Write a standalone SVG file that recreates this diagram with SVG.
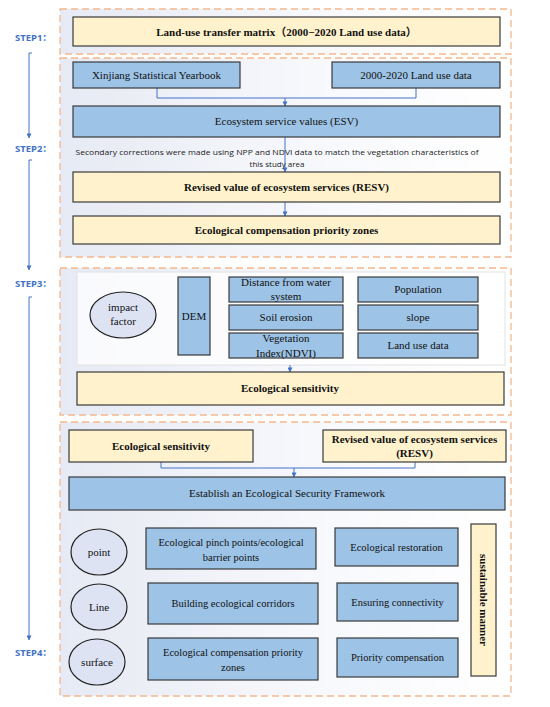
<svg xmlns="http://www.w3.org/2000/svg" width="550" height="707" viewBox="0 0 550 707">
<defs>
<linearGradient id="bg" x1="0" y1="0" x2="1" y2="0">
<stop offset="0" stop-color="#e4e8f3"/>
<stop offset="0.55" stop-color="#f7f8fc"/>
<stop offset="1" stop-color="#ffffff"/>
</linearGradient>
<marker id="ah" viewBox="0 0 6 6" refX="5.5" refY="3" markerWidth="5" markerHeight="5" orient="auto" markerUnits="userSpaceOnUse">
<path d="M0,0 L6,3 L0,6 Z" fill="#4472c4"/>
</marker>
<style>
.cont{fill:url(#bg);stroke:#f4b183;stroke-width:1.3;stroke-dasharray:7 4;opacity:0.9}
.yel{fill:#fff2cc;stroke:#3a3a3a;stroke-width:1.2}
.blu{fill:#9dc3e6;stroke:#3a3a3a;stroke-width:1.2}
.ell{fill:#dde3f3;stroke:#222;stroke-width:1.2}
.t{font-family:"Liberation Serif","Times New Roman",serif;font-size:11px;fill:#111;text-anchor:middle}
.tb{font-family:"Liberation Serif","Times New Roman",serif;font-size:11px;font-weight:bold;fill:#111;text-anchor:middle}
.s{font-family:"Liberation Serif","Times New Roman",serif;font-size:10.5px;fill:#111;text-anchor:middle}
.step{font-family:"Noto Sans","Noto Sans CJK SC",sans-serif;font-size:9.5px;font-weight:bold;fill:#4472c4}
.note{font-family:"Open Sans","Noto Sans",sans-serif;font-size:8px;fill:#222;text-anchor:middle}
.ln{fill:none;stroke:#4472c4;stroke-width:1}
</style>
</defs>

<g id="containers">
<rect class="cont" x="60" y="9" width="451" height="45"/>
<rect class="cont" x="60" y="58" width="451" height="199"/>
<rect class="cont" x="60" y="268" width="451" height="147"/>
<rect class="cont" x="60" y="422" width="451" height="274"/>
<rect x="77" y="272" width="428" height="93" fill="#ffffff" fill-opacity="0.75" stroke="#e2e2e2" stroke-width="1"/>
</g>

<g id="steps">
<text class="step" x="15" y="41">STEP1：</text>
<text class="step" x="15" y="152">STEP2：</text>
<text class="step" x="15" y="287">STEP3：</text>
<text class="step" x="15" y="656">STEP4：</text>
</g>

<g id="connectors">
<path class="ln" d="M32,53 H29 V138" marker-end="url(#ah)"/>
<path class="ln" d="M32,160 H29 V270" marker-end="url(#ah)"/>
<path class="ln" d="M32,297 H29 V640" marker-end="url(#ah)"/>
<path class="ln" d="M157,88 V98 H416 V88"/>
<path class="ln" d="M285,98 V106" marker-end="url(#ah)"/>
<path class="ln" d="M285,137 V172" marker-end="url(#ah)"/>
<path class="ln" d="M285,202 V216" marker-end="url(#ah)"/>
<path class="ln" d="M290,365 V372" marker-end="url(#ah)"/>
<path class="ln" d="M161,462 V468 H415 V462"/>
<path class="ln" d="M294,468 V477" marker-end="url(#ah)"/>
</g>

<g id="n-landuse-matrix">
<rect class="yel" x="73" y="17" width="427" height="29"/>
<text class="tb" x="286.5" y="35.5" style="font-family:'Liberation Serif','Noto Sans CJK SC',serif">Land-use transfer matrix（2000−2020 Land use data）</text>
</g>

<g id="n-yearbook">
<rect class="blu" x="73" y="62" width="167" height="26"/>
<text class="t" x="156.5" y="79">Xinjiang Statistical Yearbook</text>
</g>

<g id="n-landuse-data">
<rect class="blu" x="332" y="62" width="168" height="26"/>
<text class="t" x="416" y="79">2000-2020 Land use data</text>
</g>

<g id="n-esv">
<rect class="blu" x="73" y="106" width="427" height="31"/>
<text class="t" x="286.5" y="125">Ecosystem service values (ESV)</text>
</g>

<g id="n-note">
<text class="note" x="277" y="155" textLength="403" lengthAdjust="spacingAndGlyphs">Secondary corrections were made using NPP and NDVI data to match the vegetation characteristics of</text>
<text class="note" x="277" y="167">this study area</text>
</g>

<g id="n-resv">
<rect class="yel" x="73" y="172" width="427" height="30"/>
<text class="tb" x="286.5" y="191">Revised value of ecosystem services  (RESV)</text>
</g>

<g id="n-priority-zones">
<rect class="yel" x="73" y="216" width="427" height="28"/>
<text class="tb" x="286.5" y="234">Ecological compensation priority zones</text>
</g>

<g id="n-impact">
<ellipse class="ell" cx="123" cy="315" rx="33" ry="23"/>
<text class="t" x="123" y="311">impact</text>
<text class="t" x="123" y="325">factor</text>
</g>

<g id="n-dem">
<rect class="blu" x="178" y="277" width="32" height="78"/>
<text class="t" x="194" y="320">DEM</text>
</g>

<g id="n-water">
<rect class="blu" x="229" y="277" width="114" height="25"/>
<text class="t" x="286" y="286">Distance from water</text>
<text class="t" x="286" y="300">system</text>
</g>

<g id="n-soil">
<rect class="blu" x="229" y="305" width="114" height="25"/>
<text class="t" x="286" y="321">Soil erosion</text>
</g>

<g id="n-ndvi">
<rect class="blu" x="229" y="333" width="114" height="25"/>
<text class="t" x="286" y="342">Vegetation</text>
<text class="t" x="286" y="357">Index(NDVI)</text>
</g>

<g id="n-population">
<rect class="blu" x="358" y="277" width="120" height="25"/>
<text class="t" x="418" y="293">Population</text>
</g>

<g id="n-slope">
<rect class="blu" x="358" y="305" width="120" height="25"/>
<text class="t" x="418" y="321">slope</text>
</g>

<g id="n-landuse">
<rect class="blu" x="358" y="333" width="120" height="25"/>
<text class="t" x="418" y="349">Land use data</text>
</g>

<g id="n-sensitivity">
<rect class="yel" x="77" y="372" width="427" height="33"/>
<text class="tb" x="290" y="392">Ecological sensitivity</text>
</g>

<g id="n-sensitivity2">
<rect class="yel" x="69" y="430" width="184" height="32"/>
<text class="tb" x="161" y="450">Ecological sensitivity</text>
</g>

<g id="n-resv2">
<rect class="yel" x="323" y="430" width="183" height="32"/>
<text class="tb" x="414.5" y="443">Revised value of ecosystem services</text>
<text class="tb" x="414.5" y="457">(RESV)</text>
</g>

<g id="n-esf">
<rect class="blu" x="69" y="477" width="436" height="33"/>
<text class="t" x="287" y="497">Establish an Ecological Security Framework</text>
</g>

<g id="n-point">
<ellipse class="ell" cx="99" cy="552" rx="28" ry="23"/>
<text class="t" x="99" y="556">point</text>
</g>

<g id="n-line">
<ellipse class="ell" cx="99" cy="607" rx="28" ry="23"/>
<text class="t" x="99" y="611">Line</text>
</g>

<g id="n-surface">
<ellipse class="ell" cx="97" cy="662" rx="28" ry="23"/>
<text class="t" x="97" y="666">surface</text>
</g>

<g id="n-pinch">
<rect class="blu" x="146" y="528" width="170" height="41"/>
<text class="s" x="231" y="546">Ecological pinch points/ecological</text>
<text class="s" x="231" y="561">barrier points</text>
</g>

<g id="n-restoration">
<rect class="blu" x="335" y="528" width="123" height="38"/>
<text class="s" x="396.5" y="551">Ecological restoration</text>
</g>

<g id="n-corridors">
<rect class="blu" x="148" y="583" width="170" height="41"/>
<text class="s" x="233" y="607">Building ecological corridors</text>
</g>

<g id="n-connectivity">
<rect class="blu" x="337" y="583" width="121" height="38"/>
<text class="s" x="397.5" y="606">Ensuring connectivity</text>
</g>

<g id="n-zones">
<rect class="blu" x="148" y="638" width="170" height="42"/>
<text class="s" x="233" y="656">Ecological compensation priority</text>
<text class="s" x="233" y="671">zones</text>
</g>

<g id="n-priority">
<rect class="blu" x="337" y="638" width="121" height="39"/>
<text class="s" x="397.5" y="661">Priority compensation</text>
</g>

<g id="n-sustainable">
<rect class="yel" x="471" y="524" width="25" height="152"/>
<text class="tb" x="0" y="0" transform="translate(483.5,600) rotate(90)" dy="3.8">sustainable manner</text>
</g>
</svg>
